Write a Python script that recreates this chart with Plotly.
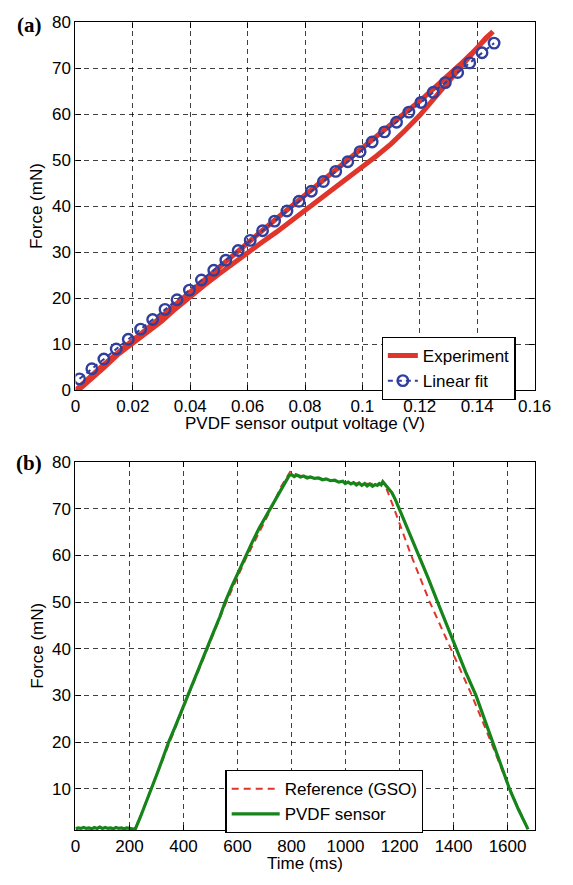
import plotly.graph_objects as go

# ---------------- Panel (a): force vs PVDF voltage ----------------
exp_up_x = [0.0000, 0.0030, 0.0060, 0.0100, 0.0150, 0.0200, 0.0250, 0.0300, 0.0350, 0.0400,
            0.0450, 0.0500, 0.0550, 0.0600, 0.0650, 0.0700, 0.0750, 0.0800, 0.0850, 0.0900,
            0.0950, 0.1000, 0.1050, 0.1100, 0.1150, 0.1200, 0.1250, 0.1300, 0.1340, 0.1380,
            0.1420, 0.1455]
exp_up_y = [0.0, 1.6, 3.4, 5.7, 8.4, 10.9, 13.4, 16.1, 18.8, 21.5,
            24.1, 26.8, 29.4, 32.1, 34.7, 37.3, 39.9, 42.5, 45.1, 47.6,
            50.2, 52.7, 55.3, 57.8, 60.4, 62.9, 65.6, 68.3, 70.8, 73.2,
            75.6, 78.0]
exp_down_x = [0.1455, 0.1430, 0.1400, 0.1360, 0.1320, 0.1280, 0.1250, 0.1200, 0.1150, 0.1100,
              0.1050, 0.1000, 0.0950, 0.0900, 0.0850, 0.0800, 0.0750, 0.0700, 0.0650, 0.0600,
              0.0550, 0.0500, 0.0450, 0.0400, 0.0350, 0.0300, 0.0250, 0.0200, 0.0150, 0.0100,
              0.0050, 0.0020, 0.0000]
exp_down_y = [78.0, 76.6, 74.6, 71.6, 68.6, 65.6, 63.4, 59.8, 56.6, 53.6,
              51.0, 48.6, 46.3, 43.9, 41.3, 38.9, 36.6, 34.4, 32.2, 30.0,
              27.6, 25.3, 22.9, 20.4, 17.8, 15.0, 12.6, 10.3, 7.9, 5.0,
              2.3, 0.6, 0.0]

fit_x = [0.0014, 0.0057, 0.0099, 0.0142, 0.0184, 0.0227, 0.0269, 0.0312, 0.0354, 0.0397,
         0.0439, 0.0482, 0.0524, 0.0567, 0.0609, 0.0652, 0.0694, 0.0737, 0.0779, 0.0822,
         0.0864, 0.0907, 0.0949, 0.0992, 0.1034, 0.1077, 0.1119, 0.1162, 0.1204, 0.1247,
         0.1289, 0.1332, 0.1374, 0.1417, 0.1459]
fit_y = [2.5, 4.7, 6.8, 9.0, 11.1, 13.3, 15.4, 17.6, 19.7, 21.8,
         24.0, 26.1, 28.3, 30.4, 32.6, 34.7, 36.8, 39.0, 41.1, 43.3,
         45.4, 47.6, 49.7, 51.9, 54.0, 56.2, 58.3, 60.5, 62.6, 64.8,
         66.9, 69.1, 71.2, 73.4, 75.5]

xa_ticks = [0, 0.02, 0.04, 0.06, 0.08, 0.1, 0.12, 0.14, 0.16]
xa_labels = ["0", "0.02", "0.04", "0.06", "0.08", "0.1", "0.12", "0.14", "0.16"]
ya_ticks = [0, 10, 20, 30, 40, 50, 60, 70, 80]

# ---------------- Panel (b): force vs time ----------------
pvdf_t = [0, 10, 20, 30, 40, 50, 60, 70, 80, 90, 100, 110, 120, 130, 140, 150, 160, 170,
          180, 190, 200, 210, 221,
          240, 260, 280, 300, 320, 345, 370, 395, 414, 440, 465, 486, 510, 535, 554,
          580, 605, 630, 655, 680, 700, 723, 745, 765, 780, 791,
          800, 810, 820, 833, 845, 858, 870, 885, 900, 915, 928, 944, 960, 975, 990, 999,
          1010, 1020, 1030, 1040, 1050, 1060, 1071, 1080, 1090, 1100, 1110, 1118,
          1125, 1132, 1138, 1146, 1155, 1172, 1185, 1199, 1235, 1273, 1305, 1341, 1375, 1409,
          1445, 1483, 1515, 1543, 1575, 1607, 1640, 1676]
pvdf_f = [1.4, 1.6, 1.5, 1.7, 1.5, 1.6, 1.4, 1.7, 1.5, 1.8, 1.5, 1.7, 1.5, 1.6, 1.4, 1.7,
          1.5, 1.6, 1.4, 1.6, 1.5, 1.4, 1.3,
          3.9, 6.8, 10.0, 12.9, 16.0, 20.0, 23.4, 27.0, 30.0, 33.4, 37.0, 40.0, 43.4, 46.9, 50.0,
          53.5, 56.7, 60.0, 62.9, 65.8, 67.9, 70.0, 72.4, 74.6, 76.0, 77.1,
          77.3, 76.9, 77.2, 76.8, 77.0, 76.6, 76.8, 76.5, 76.6, 76.2, 76.4, 76.0, 76.1, 75.7, 75.9, 75.4,
          75.7, 75.3, 75.6, 75.1, 75.5, 75.0, 75.4, 74.9, 75.3, 74.8, 75.2, 75.0,
          75.4, 75.1, 75.8, 75.2, 74.7, 73.4, 71.9, 70.0, 64.9, 60.0, 55.3, 50.0, 45.1, 40.0,
          35.0, 30.0, 24.8, 20.0, 15.1, 10.0, 5.6, 1.3]

gso_t = [221, 345, 414, 486, 554, 630, 723, 760, 797, 820, 850, 880, 920, 960, 1000,
         1050, 1100, 1145, 1180, 1243, 1312, 1390, 1468, 1539, 1607, 1676]
gso_f = [1.3, 19.6, 29.5, 39.6, 49.4, 59.2, 69.8, 74.6, 78.1, 77.2, 77.0, 76.7, 76.3, 75.9, 75.6,
         75.4, 75.3, 75.3, 70.0, 60.0, 50.0, 40.0, 30.0, 20.0, 10.0, 1.3]

xb_ticks = [0, 200, 400, 600, 800, 1000, 1200, 1400, 1600]
yb_ticks = [10, 20, 30, 40, 50, 60, 70, 80]

# ---------------- styling ----------------
FONT = "Liberation Sans, Arial, Helvetica, sans-serif"
RED = "#E0352B"
BLUE = "#2E3F9E"
GREEN = "#15851A"
GRID = "rgba(0,0,0,0.75)"

fig = go.Figure()

fig.add_trace(go.Scatter(
    x=exp_up_x + exp_down_x, y=exp_up_y + exp_down_y,
    mode="lines", name="Experiment",
    line=dict(color=RED, width=5),
    xaxis="x", yaxis="y", legend="legend"))
fig.add_trace(go.Scatter(
    x=fit_x, y=fit_y, mode="lines+markers", name="Linear fit",
    line=dict(color=BLUE, width=2, dash="5px,4px"),
    marker=dict(symbol="circle-open", size=10.5, color=BLUE, line=dict(width=2.4, color=BLUE)),
    xaxis="x", yaxis="y", legend="legend"))

fig.add_trace(go.Scatter(
    x=gso_t, y=gso_f, mode="lines", name="Reference (GSO)",
    line=dict(color=RED, width=2, dash="7px,5px"),
    xaxis="x2", yaxis="y2", legend="legend2"))
fig.add_trace(go.Scatter(
    x=pvdf_t, y=pvdf_f, mode="lines", name="PVDF sensor",
    line=dict(color=GREEN, width=3.2),
    xaxis="x2", yaxis="y2", legend="legend2"))

axis_common = dict(
    showline=True, linecolor="black", linewidth=1.2, mirror="ticks",
    ticks="inside", ticklen=5, tickcolor="black", tickwidth=1,
    showgrid=True, gridcolor=GRID, gridwidth=1, griddash="5px,4px",
    zeroline=False, tickfont=dict(family=FONT, size=17, color="black"),
)

XDOM = [73.3 / 573, 550.7 / 573]
fig.update_layout(
    width=573, height=885,
    margin=dict(l=0, r=0, t=0, b=0),
    paper_bgcolor="white", plot_bgcolor="white",
    font=dict(family=FONT, size=17, color="black"),
    xaxis=dict(domain=XDOM, range=[0, 0.16], tickvals=xa_ticks, ticktext=xa_labels,
               anchor="y", **axis_common),
    yaxis=dict(domain=[1 - 389.7 / 885, 1 - 13.7 / 885], range=[0, 80], tickvals=ya_ticks,
               anchor="x", **axis_common),
    xaxis2=dict(domain=XDOM, range=[0, 1700], tickvals=xb_ticks,
                anchor="y2", **axis_common),
    yaxis2=dict(domain=[1 - 839.3 / 885, 1 - 463 / 885], range=[1.1, 80], tickvals=yb_ticks,
                anchor="x2", **axis_common),
    legend=dict(x=391.7 / 573, y=1 - 335 / 885, xanchor="left", yanchor="top",
                bgcolor="white", bordercolor="black", borderwidth=1.2,
                font=dict(family=FONT, size=17), tracegroupgap=0),
    legend2=dict(x=229.3 / 573, y=1 - 777.7 / 885, xanchor="left", yanchor="top",
                 bgcolor="white", bordercolor="black", borderwidth=1.2, itemwidth=48,
                 font=dict(family=FONT, size=17), tracegroupgap=0),
    showlegend=True,
)

annos = [
    dict(text="<b>(a)</b>", x=25 / 573, y=1 - 16 / 885,
         font=dict(family="Liberation Serif, DejaVu Serif, serif", size=21)),
    dict(text="<b>(b)</b>", x=25 / 573, y=1 - 464 / 885,
         font=dict(family="Liberation Serif, DejaVu Serif, serif", size=21)),
    dict(text="Force (mN)", x=33 / 573, y=1 - 201.7 / 885, textangle=-90,
         font=dict(family=FONT, size=17)),
    dict(text="Force (mN)", x=33 / 573, y=1 - 651 / 885, textangle=-90,
         font=dict(family=FONT, size=17)),
    dict(text="PVDF sensor output voltage (V)", x=312 / 573, y=1 - 424 / 885,
         font=dict(family=FONT, size=17)),
    dict(text="Time (ms)", x=312 / 573, y=1 - 873 / 885,
         font=dict(family=FONT, size=17)),
]
for a in annos:
    fig.add_annotation(xref="paper", yref="paper", showarrow=False,
                       xanchor="center", yanchor="middle", **a)

fig.write_html("out.html")
